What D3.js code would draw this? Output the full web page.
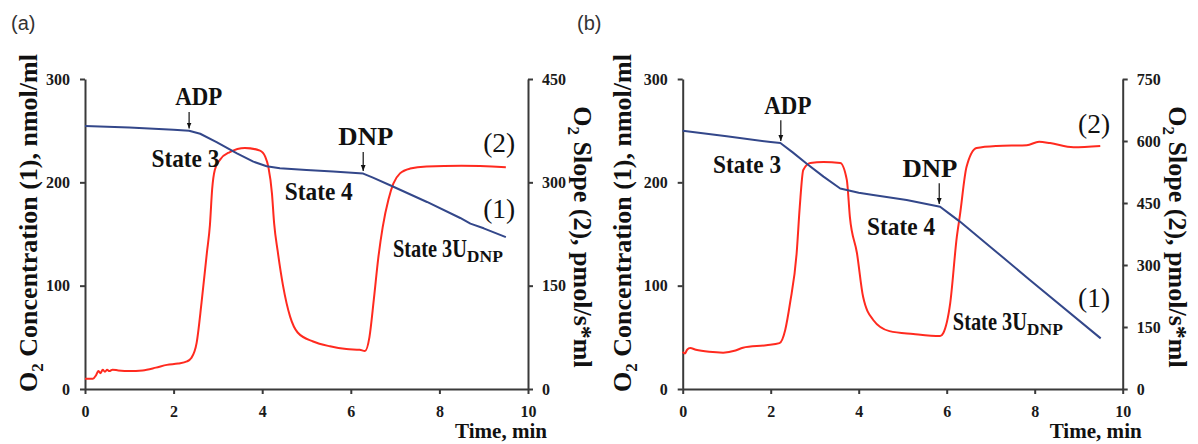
<!DOCTYPE html>
<html>
<head>
<meta charset="utf-8">
<script src="https://cdn.jsdelivr.net/npm/d3@7"></script>
<style>
    body { margin: 0; background: #fff; }
    svg { display: block; }
</style>
</head>
<body>
<svg id="chart" width="1198" height="444"></svg>
<script>
// tick labels
const timeTicks = [0, 2, 4, 6, 8, 10];
const concTicks = [0, 100, 200, 300];
const slopeTicksA = [0, 150, 300, 450];
const slopeTicksB = [0, 150, 300, 450, 600, 750];

// (a) O2 concentration (1), [min, nmol/ml]
const concA = [[0, 254.6], [1, 253], [2, 251], [2.35, 250], [2.6, 247], [2.97, 239], [3.43, 228], [3.8, 220],
    [4.1, 215.5], [4.4, 213.6], [5, 212], [5.6, 210.5], [6.28, 208.5], [6.5, 204.5], [6.95, 196], [7.72, 181],
    [8.47, 165.5], [8.7, 160], [9, 155.5], [9.5, 147]];

// (a) O2 slope (2), [min, pmol/s*ml]
const slopeA = [[0, 15], [0.18, 15], [0.25, 20], [0.3, 26], [0.35, 23], [0.4, 28], [0.45, 25], [0.5, 28], [0.55, 26],
    [0.62, 28], [0.75, 27], [1, 26], [1.3, 27], [1.6, 31], [1.85, 35], [2.1, 37], [2.3, 40], [2.4, 45], [2.52, 67],
    [2.63, 125], [2.75, 197], [2.82, 238], [2.87, 290], [2.93, 318], [3.05, 333], [3.27, 344], [3.61, 350],
    [3.95, 346], [4.07, 337], [4.14, 322], [4.22, 284], [4.27, 240], [4.35, 200], [4.47, 150], [4.63, 105],
    [4.8, 82], [5.15, 69], [5.53, 62], [5.9, 58], [6.2, 57], [6.32, 55], [6.42, 75], [6.52, 130], [6.62, 190],
    [6.72, 235], [6.85, 275], [6.96, 298], [7.11, 313], [7.34, 320], [7.71, 323], [8.5, 324], [9.5, 322]];

// (b) O2 concentration (1)
const concB = [[0, 250], [1, 244.5], [2, 239], [2.22, 238], [2.5, 229], [2.82, 218], [3.2, 205.5], [3.58, 194],
    [4, 190], [4.33, 187.7], [5.09, 183], [5.85, 176.4], [6.05, 170], [6.3, 162], [6.98, 138], [7.89, 105.5],
    [9.5, 49]];

// (b) O2 slope (2)
const slopeB = [[0, 90], [0.05, 86], [0.1, 95], [0.17, 99], [0.3, 95], [0.6, 90], [0.92, 88], [1.2, 93], [1.37, 100],
    [1.9, 106], [2.2, 111], [2.33, 143], [2.44, 208], [2.59, 329], [2.66, 440], [2.74, 530], [2.9, 547], [3.2, 549],
    [3.58, 547], [3.73, 506], [3.8, 416], [3.96, 329], [4.1, 223], [4.33, 167], [4.7, 140], [5.24, 133],
    [5.85, 128], [5.92, 135], [6.08, 208], [6.23, 368], [6.3, 420], [6.45, 537], [6.68, 583], [7.13, 588],
    [7.82, 590], [8.1, 598], [8.35, 595], [8.88, 585], [9.49, 588]];

const svg = d3.select("#chart");
const serif = '"Liberation Serif", "Times New Roman", serif';

svg.append("rect").attr("width", 1198).attr("height", 444).attr("fill", "#fff");

svg.append("defs").append("marker")
    .attr("id", "arr")
    .attr("viewBox", "0 0 10 10")
    .attr("refX", 10).attr("refY", 5)
    .attr("markerWidth", 5).attr("markerHeight", 6)
    .attr("orient", "auto")
    .append("path").attr("d", "M0,1L10,5L0,9z").attr("fill", "#111");

function label(g, x, y, txt, opts) {
    let t = g.append("text")
        .attr("font-family", serif).attr("fill", "#111")
        .attr("x", x).attr("y", y)
        .attr("font-size", opts.size || 25)
        .attr("font-weight", opts.bold === false ? "normal" : "bold")
        .attr("text-anchor", opts.anchor || "start")
        .text(txt);
    if (opts.len) t.attr("textLength", opts.len).attr("lengthAdjust", "spacingAndGlyphs");
    return t;
}

function styleAxis(sel) {
    sel.attr("font-family", serif).attr("font-size", 16).attr("font-weight", "bold");
    sel.selectAll("path, line").attr("stroke", "#3a3a3a").attr("stroke-width", 2);
    sel.selectAll("text")
        .attr("font-family", serif).attr("font-weight", "bold")
        .attr("font-size", 16).attr("fill", "#1a1a1a");
}

function drawPanel(cfg) {
    const g = svg.append("g");
    const x = d3.scaleLinear().domain([0, 10]).range([cfg.left, cfg.right]);
    const yC = d3.scaleLinear().domain([0, 300]).range([389, 79]);
    const yS = d3.scaleLinear().domain([0, cfg.slopeMax]).range([389, 79]);

    g.append("g")
        .attr("transform", "translate(0,389)")
        .call(d3.axisBottom(x).tickValues(timeTicks).tickSize(5).tickPadding(12).tickSizeOuter(0))
        .call(styleAxis);
    g.append("g")
        .attr("transform", `translate(${cfg.left},0)`)
        .call(d3.axisLeft(yC).tickValues(concTicks).tickSize(5).tickPadding(10).tickSizeOuter(0))
        .call(styleAxis);
    g.append("g")
        .attr("transform", `translate(${cfg.right},0)`)
        .call(d3.axisRight(yS).tickValues(cfg.slopeTicks).tickSize(5).tickPadding(9).tickSizeOuter(0))
        .call(styleAxis);

    const lineC = d3.line().x(d => x(d[0])).y(d => yC(d[1]));
    const lineS = d3.line().x(d => x(d[0])).y(d => yS(d[1])).curve(d3.curveMonotoneX);

    g.append("path").datum(cfg.slope)
        .attr("d", lineS).attr("fill", "none")
        .attr("stroke", "#ff2a1f").attr("stroke-width", 2);
    g.append("path").datum(cfg.conc)
        .attr("d", lineC).attr("fill", "none")
        .attr("stroke", "#33478a").attr("stroke-width", 2)
        .attr("stroke-linejoin", "round");

    // annotations, placed in data units
    const n = cfg.notes;
    label(g, x(n.adp[0]), yC(n.adp[1]), "ADP", {anchor: "middle", len: 47});
    label(g, x(n.dnp[0]), yC(n.dnp[1]), "DNP", {anchor: "middle", len: 55});
    label(g, x(n.s3[0]), yC(n.s3[1]), "State 3", {len: 68});
    label(g, x(n.s4[0]), yC(n.s4[1]), "State 4", {len: 68});
    label(g, x(n.s3u[0]), yC(n.s3u[1]), "State 3U", {len: 74});
    label(g, x(n.s3u[0]) + 74, yC(n.s3u[1]) + 5, "DNP", {len: 36, size: 17});
    label(g, x(n.two[0]), yC(n.two[1]), "(2)", {anchor: "middle", len: 32, size: 27, bold: false});
    label(g, x(n.one[0]), yC(n.one[1]), "(1)", {anchor: "middle", len: 32, size: 27, bold: false});

    [n.adpArrow, n.dnpArrow].forEach(a => {
        g.append("line")
            .attr("x1", x(a[0])).attr("x2", x(a[0]))
            .attr("y1", yC(a[1])).attr("y2", yC(a[2]))
            .attr("stroke", "#111").attr("stroke-width", 1.2)
            .attr("marker-end", "url(#arr)");
    });

    // axis titles
    const lt = g.append("text")
        .attr("font-family", serif).attr("fill", "#111")
        .attr("transform", `translate(${cfg.leftTitleX},223) rotate(-90)`)
        .attr("text-anchor", "middle").attr("dy", "0.35em")
        .attr("font-size", 26).attr("font-weight", "bold");
    lt.append("tspan").text("O");
    lt.append("tspan").attr("font-size", 17).attr("dy", 6).text("2");
    lt.append("tspan").attr("dy", -6).text(" Concentration (1), nmol/ml");

    const rt = g.append("text")
        .attr("font-family", serif).attr("fill", "#111")
        .attr("transform", `translate(${cfg.right + 55},237) rotate(90)`)
        .attr("text-anchor", "middle").attr("dy", "0.35em")
        .attr("font-size", 26).attr("font-weight", "bold");
    rt.append("tspan").text("O");
    rt.append("tspan").attr("font-size", 17).attr("dy", 6).text("2");
    rt.append("tspan").attr("dy", -6).text(" Slope (2), pmol/s*ml");

    label(g, cfg.right + 19, 438, "Time, min", {anchor: "end", size: 22, len: 92});

    g.append("text")
        .attr("x", cfg.tagX).attr("y", 30)
        .attr("font-family", '"Liberation Sans", Arial, sans-serif')
        .attr("font-size", 20).attr("fill", "#333")
        .text(cfg.tag);
}

drawPanel({
    tag: "(a)", tagX: 11,
    left: 85, right: 528, leftTitleX: 28,
    slopeMax: 450, slopeTicks: slopeTicksA,
    conc: concA, slope: slopeA,
    notes: {
        adp: [2.57, 274.8], adpArrow: [2.35, 268, 252],
        dnp: [6.34, 236], dnpArrow: [6.28, 229.4, 211],
        s3: [1.5, 214.8], s4: [4.51, 183], s3u: [6.95, 127.7],
        two: [9.35, 229.4], one: [9.35, 165.5]
    }
});

drawPanel({
    tag: "(b)", tagX: 577,
    left: 682.7, right: 1122.7, leftTitleX: 622,
    slopeMax: 750, slopeTicks: slopeTicksB,
    conc: concB, slope: slopeB,
    notes: {
        adp: [2.39, 266], adpArrow: [2.23, 260, 240],
        dnp: [5.62, 205], dnpArrow: [5.83, 199, 179],
        s3: [0.69, 209], s4: [4.19, 149], s3u: [6.14, 57],
        two: [9.35, 247.7], one: [9.35, 79.4]
    }
});
</script>
</body>
</html>
